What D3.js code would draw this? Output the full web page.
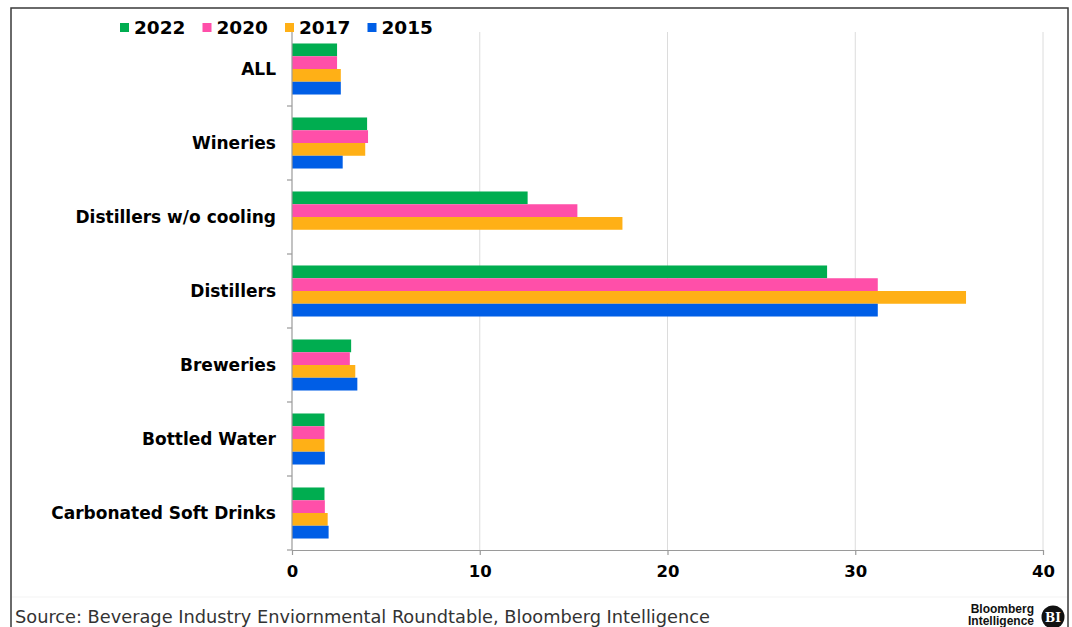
<!DOCTYPE html>
<html>
<head>
<meta charset="utf-8">
<script src="https://cdn.jsdelivr.net/npm/d3@7"></script>
<style>
  html, body { margin: 0; padding: 0; background: #fff; }
  svg { display: block; }
</style>
</head>
<body>
<svg id="chart" width="1072" height="627"></svg>
<script>
// Water use ratio by beverage segment (litres of water per litre of product)
const categories = ["ALL", "Wineries", "Distillers w/o cooling", "Distillers", "Breweries", "Bottled Water", "Carbonated Soft Drinks"];
const seriesNames = ["2022", "2020", "2017", "2015"];
const values2022 = [2.4, 4.0, 12.55, 28.5, 3.15, 1.73, 1.73];
const values2020 = [2.4, 4.05, 15.2, 31.2, 3.08, 1.73, 1.75];
const values2017 = [2.6, 3.9, 17.6, 35.9, 3.37, 1.73, 1.9];
const values2015 = [2.6, 2.7, null, 31.2, 3.48, 1.75, 1.95];
const seriesColors = ["#00ad50", "#ff4fa9", "#ffb016", "#005ee6"];
const xTicks = [0, 10, 20, 30, 40];
const sourceText = "Source: Beverage Industry Enviornmental Roundtable, Bloomberg Intelligence";

const seriesValues = [values2022, values2020, values2017, values2015];
const rows = [];
categories.forEach((c, i) => {
  seriesNames.forEach((s, j) => {
    const v = seriesValues[j][i];
    if (v != null) rows.push({ category: c, series: s, value: v, color: seriesColors[j] });
  });
});

const svg = d3.select("#chart");
const plot = { left: 292, right: 1043, top: 32, bottom: 550 };
const boldFont = "'DejaVu Sans', Verdana, sans-serif";

const x = d3.scaleLinear().domain([0, 40]).range([plot.left, plot.right]);
const y0 = d3.scaleBand().domain(categories).range([plot.top, plot.bottom]).padding(0);
const y1 = d3.scaleBand().domain(seriesNames).range([0, y0.bandwidth()]).paddingInner(0).paddingOuter(0.9);

// frame
svg.append("rect")
  .attr("x", 11).attr("y", 8).attr("width", 1057).attr("height", 640)
  .attr("fill", "none").attr("stroke", "#3a3a3a").attr("stroke-width", 1.5);

// vertical gridlines
svg.append("g")
  .selectAll("line")
  .data(xTicks.filter(t => t > 0))
  .join("line")
  .attr("x1", d => x(d)).attr("x2", d => x(d))
  .attr("y1", plot.top).attr("y2", plot.bottom)
  .attr("stroke", "#dcdcdc").attr("stroke-width", 1);

// bars
svg.append("g")
  .selectAll("rect")
  .data(rows)
  .join("rect")
  .attr("x", x(0))
  .attr("y", d => y0(d.category) + y1(d.series))
  .attr("width", d => x(d.value) - x(0))
  .attr("height", y1.bandwidth())
  .attr("fill", d => d.color);

// x axis
const xAxis = svg.append("g")
  .attr("transform", `translate(0,${plot.bottom})`)
  .call(d3.axisBottom(x).tickValues(xTicks).tickSize(5).tickPadding(10).tickSizeOuter(0));
xAxis.select(".domain").attr("stroke", "#9a9a9a").attr("stroke-width", 1.2);
xAxis.selectAll(".tick line").attr("stroke", "#9a9a9a").attr("stroke-width", 1.2);
xAxis.selectAll(".tick text")
  .attr("fill", "#000")
  .style("font-family", boldFont)
  .style("font-weight", "bold")
  .style("font-size", "16.5px");

// y axis: boundary ticks between categories
const yAxisG = svg.append("g");
yAxisG.append("line")
  .attr("x1", x(0)).attr("x2", x(0))
  .attr("y1", plot.top).attr("y2", plot.bottom)
  .attr("stroke", "#9a9a9a").attr("stroke-width", 1.2);
yAxisG.selectAll("line.bound")
  .data(categories)
  .join("line")
  .attr("class", "bound")
  .attr("x1", x(0) - 5).attr("x2", x(0))
  .attr("y1", d => y0(d) + y0.bandwidth()).attr("y2", d => y0(d) + y0.bandwidth())
  .attr("stroke", "#9a9a9a").attr("stroke-width", 1.2);
yAxisG.selectAll("text")
  .data(categories)
  .join("text")
  .attr("x", x(0) - 16)
  .attr("y", d => y0(d) + y0.bandwidth() / 2)
  .attr("dy", "0.36em")
  .attr("text-anchor", "end")
  .style("font-family", boldFont)
  .style("font-weight", "bold")
  .style("font-size", "17px")
  .attr("fill", "#000")
  .text(d => d);

// legend
const legend = svg.append("g").attr("transform", "translate(120,0)");
const legendItem = legend.selectAll("g")
  .data(seriesNames)
  .join("g")
  .attr("transform", (d, i) => `translate(${i * 82.5},0)`);
legendItem.append("rect")
  .attr("x", 0).attr("y", 23).attr("width", 9).attr("height", 9)
  .attr("fill", (d, i) => seriesColors[i]);
legendItem.append("text")
  .attr("x", 14).attr("y", 34)
  .style("font-family", boldFont)
  .style("font-weight", "bold")
  .style("font-size", "18.5px")
  .attr("fill", "#000")
  .text(d => d);

// source line
svg.append("line")
  .attr("x1", 12).attr("x2", 1067).attr("y1", 597).attr("y2", 597)
  .attr("stroke", "#f3f3f3");
svg.append("text")
  .attr("x", 15).attr("y", 623)
  .style("font-family", "'DejaVu Sans Condensed', 'DejaVu Sans', sans-serif")
  .style("font-size", "17px")
  .attr("fill", "#333")
  .attr("textLength", 695)
  .attr("lengthAdjust", "spacingAndGlyphs")
  .text(sourceText);

// Bloomberg Intelligence mark
const logo = svg.append("g");
logo.append("text")
  .attr("x", 1034).attr("y", 613).attr("text-anchor", "end")
  .style("font-family", "'Liberation Sans', Arial, sans-serif")
  .style("font-weight", "bold").style("font-size", "12px")
  .attr("fill", "#111").text("Bloomberg");
logo.append("text")
  .attr("x", 1034).attr("y", 625).attr("text-anchor", "end")
  .style("font-family", "'Liberation Sans', Arial, sans-serif")
  .style("font-weight", "bold").style("font-size", "12px")
  .attr("fill", "#111").text("Intelligence");
logo.append("circle")
  .attr("cx", 1053).attr("cy", 617).attr("r", 11.5).attr("fill", "#111");
logo.append("text")
  .attr("x", 1053).attr("y", 621.5).attr("text-anchor", "middle")
  .style("font-family", "'DejaVu Serif', serif")
  .style("font-weight", "bold").style("font-size", "12px")
  .attr("fill", "#fff").text("BI");
</script>
</body>
</html>
